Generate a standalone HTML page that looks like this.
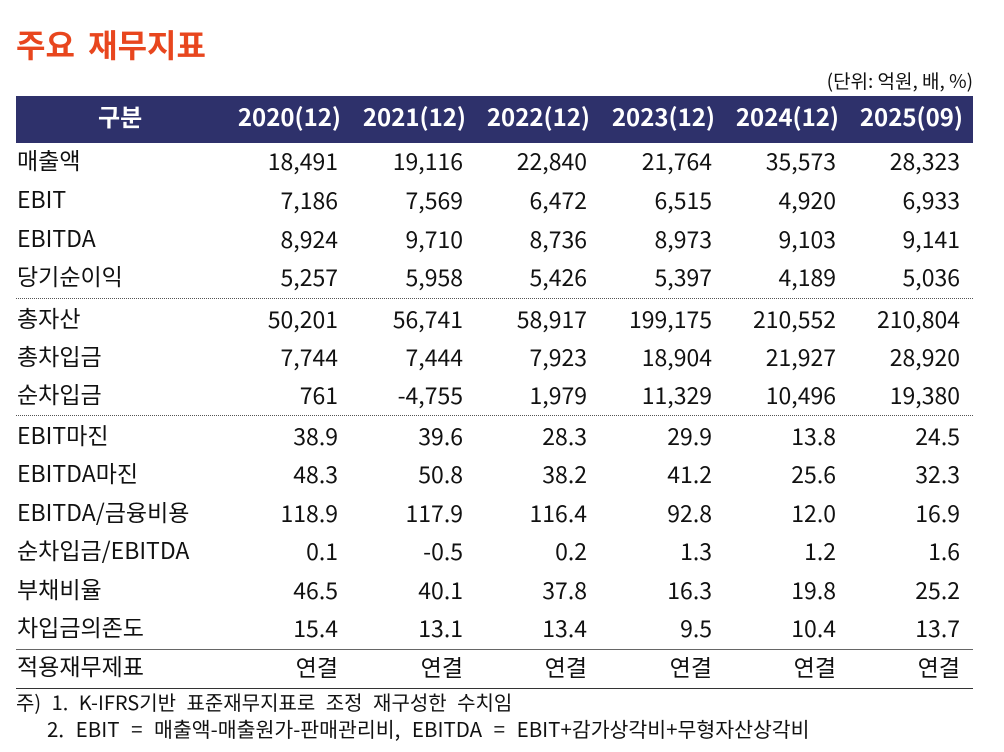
<!DOCTYPE html>
<html><head><meta charset="utf-8"><style>
body{margin:0;width:1004px;height:752px;background:#fff;position:relative;overflow:hidden;font-family:"Noto Sans CJK KR",sans-serif;color:#111}
.t{position:absolute;white-space:nowrap;line-height:1}
.r{position:absolute;white-space:nowrap;line-height:1;text-align:right;font-size:23px}
.l{position:absolute;left:16px;right:31px;height:0}
</style></head><body>
<div class="t" style="left:16px;top:28px;font-size:32px;font-weight:bold;color:#e8461e;word-spacing:6px">주요 재무지표</div>
<div class="t" style="right:31px;top:71px;font-size:19px">(단위: 억원, 배, %)</div>
<div style="position:absolute;left:16px;top:96px;width:957px;height:47px;background:#2e316b"></div>
<div id="c"></div>
<div class="l" style="top:298px;border-top:1.5px dotted #555"></div>
<div class="l" style="top:415px;border-top:1.5px dotted #555"></div>
<div class="l" style="top:649px;border-top:1.5px solid #666"></div>
<div class="l" style="top:688px;border-top:1.5px solid #333"></div>
<div class="t" style="left:16px;top:692px;font-size:20px;word-spacing:6px">주) 1. K-IFRS기반 표준재무지표로 조정 재구성한 수치임</div>
<div class="t" style="left:47px;top:718px;font-size:20.5px;word-spacing:7px">2. EBIT = 매출액-매출원가-판매관리비, EBITDA = EBIT+감가상각비+무형자산상각비</div>
<script>
const rights=[338,463,587,712,836,960];
const hdr=["2020(12)","2021(12)","2022(12)","2023(12)","2024(12)","2025(09)"];
let h='<div class="t" style="left:98px;top:104px;font-size:24px;font-weight:bold;color:#fff">구분</div>';
hdr.forEach((s,i)=>h+=`<div class="r" style="right:${1004-rights[i]-3}px;top:104px;font-size:24px;font-weight:bold;color:#fff">${s}</div>`);
const rows=[
["매출액","18,491","19,116","22,840","21,764","35,573","28,323"],
["EBIT","7,186","7,569","6,472","6,515","4,920","6,933"],
["EBITDA","8,924","9,710","8,736","8,973","9,103","9,141"],
["당기순이익","5,257","5,958","5,426","5,397","4,189","5,036"],
["총자산","50,201","56,741","58,917","199,175","210,552","210,804"],
["총차입금","7,744","7,444","7,923","18,904","21,927","28,920"],
["순차입금","761","-4,755","1,979","11,329","10,496","19,380"],
["EBIT마진","38.9","39.6","28.3","29.9","13.8","24.5"],
["EBITDA마진","48.3","50.8","38.2","41.2","25.6","32.3"],
["EBITDA/금융비용","118.9","117.9","116.4","92.8","12.0","16.9"],
["순차입금/EBITDA","0.1","-0.5","0.2","1.3","1.2","1.6"],
["부채비율","46.5","40.1","37.8","16.3","19.8","25.2"],
["차입금의존도","15.4","13.1","13.4","9.5","10.4","13.7"],
["적용재무제표","연결","연결","연결","연결","연결","연결"]];
const ys=[162,201,240,278,320,358,396,437,475,514,552,591,629,668];
rows.forEach((r,k)=>{const y=ys[k]-12;
h+=`<div class="t" style="left:17px;top:${y-2}px;font-size:23px">${r[0]}</div>`;
for(let i=0;i<6;i++)h+=`<div class="r" style="right:${1004-rights[i]}px;top:${y-1}px">${r[i+1]}</div>`;});
document.getElementById('c').outerHTML=h;
</script>
</body></html>
